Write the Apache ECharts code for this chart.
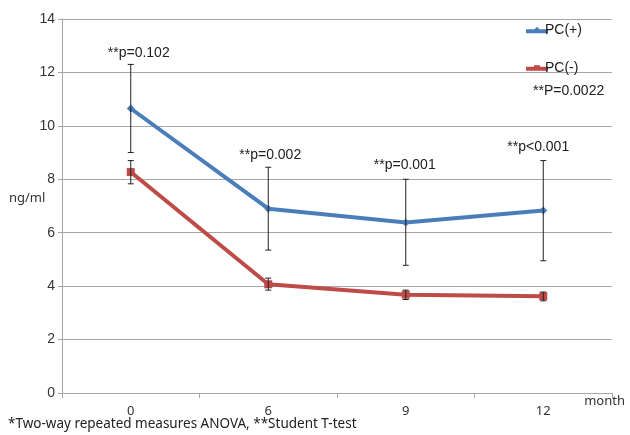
<!DOCTYPE html>
<html><head><meta charset="utf-8">
<script src="https://cdn.jsdelivr.net/npm/echarts@6/dist/echarts.min.js"></script>
<style>html,body{margin:0;padding:0;background:#fff}#c{width:630px;height:435px}</style>
</head><body><div id="c"></div>
<script>
var categories = ['0', '6', '9', '12'];
var pcPos = [10.65, 6.9, 6.38, 6.83];
var pcPosUpper = [12.3, 8.45, 8.0, 8.7];
var pcPosLower = [9.0, 5.35, 4.78, 4.95];
var pcNeg = [8.27, 4.07, 3.68, 3.62];
var pcNegUpper = [8.7, 4.3, 3.85, 3.78];
var pcNegLower = [7.83, 3.85, 3.5, 3.45];
var yTicks = [0, 2, 4, 6, 8, 10, 12, 14];
var pLabels = ['**p=0.102', '**p=0.002', '**p=0.001', '**p<0.001'];

var chart = echarts.init(document.getElementById('c'));
function errSeries(up, lo) {
  return {
    type: 'custom', z: 5, silent: true,
    data: categories.map(function (c, i) { return [i, lo[i], up[i]]; }),
    renderItem: function (params, api) {
      var x = api.coord([api.value(0), api.value(1)])[0];
      var yl = api.coord([api.value(0), api.value(1)])[1];
      var yu = api.coord([api.value(0), api.value(2)])[1];
      var st = { stroke: '#222', lineWidth: 1 };
      return { type: 'group', children: [
        { type: 'line', shape: { x1: x, y1: yu, x2: x, y2: yl }, style: st },
        { type: 'line', shape: { x1: x - 3, y1: yu, x2: x + 3, y2: yu }, style: st },
        { type: 'line', shape: { x1: x - 3, y1: yl, x2: x + 3, y2: yl }, style: st }
      ]};
    }
  };
}
var pOffY = [-11, -12, -14, -13];
var pOffX = [8, 2, -1, -5];
chart.setOption({
  animation: false,
  grid: { left: 62, right: 18, top: 19, bottom: 42, containLabel: false, outerBoundsMode: 'none' },
  legend: {
    orient: 'vertical', left: 521, top: 18, itemGap: 24, itemWidth: 22, itemHeight: 12,
    textStyle: { fontFamily: 'Liberation Sans', fontSize: 14, color: '#222', padding: [0, 0, 0, -8] },
    data: [
      { name: 'PC(+)', icon: 'path://M0,4 L22,4 L22,8 L0,8 Z M8.5,4 L11,1.5 L13.5,4 L11,6.5 Z' },
      { name: 'PC(-)', icon: 'path://M0,4 L22,4 L22,8 L0,8 Z M8,2.5 L14,2.5 L14,8 L8,8 Z' }
    ]
  },
  xAxis: {
    type: 'category', data: categories, boundaryGap: true,
    name: 'month', nameLocation: 'end', nameGap: 13,
    nameTextStyle: { fontFamily: 'Noto Sans', fontSize: 13, color: '#333', padding: [2, 0, 0, 0], align: 'right', verticalAlign: 'top' },
    axisLine: { lineStyle: { color: '#a6a6a6' } },
    axisTick: { show: true, length: 5, lineStyle: { color: '#a6a6a6' } },
    axisLabel: { fontFamily: 'Noto Sans', fontSize: 13, color: '#333', margin: 12 }
  },
  yAxis: {
    type: 'value', min: 0, max: 14, interval: 2,
    axisLine: { show: true, lineStyle: { color: '#a6a6a6' } },
    axisTick: { show: true, length: 4, inside: false, lineStyle: { color: '#a6a6a6' } },
    splitLine: { lineStyle: { color: '#a6a6a6' } },
    axisLabel: { fontFamily: 'Liberation Sans', fontSize: 14, color: '#333', margin: 7,
      formatter: function (v) { return yTicks.indexOf(v) >= 0 ? String(v) : ''; } }
  },
  series: [
    { name: 'PC(+)', type: 'line', data: pcPos, z: 3, symbol: 'diamond', symbolSize: 8,
      lineStyle: { color: '#4a7ebb', width: 4 }, itemStyle: { color: '#4a7ebb' } },
    { name: 'PC(-)', type: 'line', data: pcNeg, z: 3, symbol: 'rect', symbolSize: 8,
      lineStyle: { color: '#be4b48', width: 4 }, itemStyle: { color: '#be4b48' } },
    errSeries(pcPosUpper, pcPosLower),
    errSeries(pcNegUpper, pcNegLower),
    { type: 'custom', silent: true, z: 6,
      data: categories.map(function (c, i) { return [i, pcPosUpper[i]]; }),
      renderItem: function (params, api) {
        var p = api.coord([api.value(0), api.value(1)]);
        var i = params.dataIndex;
        return { type: 'text', x: p[0] + pOffX[i], y: p[1] + pOffY[i],
          style: { text: pLabels[i], fontFamily: 'Liberation Sans', fontSize: 14,
            fill: '#222', align: 'center', verticalAlign: 'middle' } };
      }
    }
  ],
  graphic: [
    { type: 'text', left: 9, top: 192, style: { text: 'ng/ml', fontFamily: 'Noto Sans', fontSize: 13, fill: '#333' } },
    { type: 'text', left: 533, top: 84, style: { text: '**P=0.0022', fontFamily: 'Liberation Sans', fontSize: 14, fill: '#222' } },
    { type: 'text', left: 8, top: 417, style: { text: '*Two-way repeated measures ANOVA, **Student T-test', fontFamily: 'Noto Sans', fontSize: 13.5, fill: '#222' } }
  ]
});
</script></body></html>
